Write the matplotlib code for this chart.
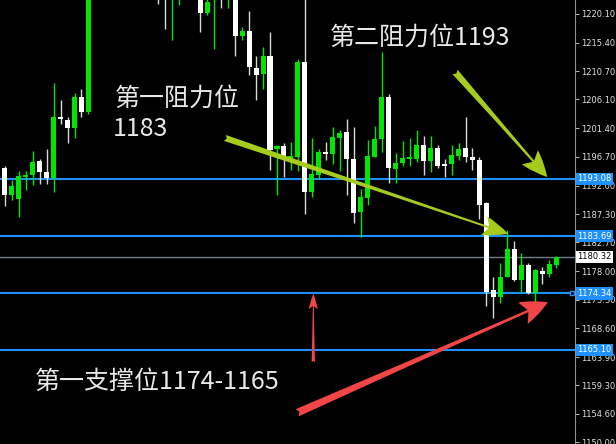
import numpy as np
import matplotlib
matplotlib.use('Agg')
import matplotlib.pyplot as plt

# candle data (white = down, green = up)
opens = [1194.9, 1190.5, 1189.8, 1193.4, 1193.7, 1196.0, 1194.2, 1193.2, 1203.2, 1202.7,
         1201.4, 1206.5, 1204.1, 1225.5, 1227.0, 1229.0, 1227.0, 1228.0, 1230.5, 1228.0,
         1226.0, 1227.0, 1225.0, 1223.5, 1222.6, 1223.0, 1224.5, 1223.2, 1224.0, 1220.3,
         1222.5, 1224.0, 1222.6, 1223.5, 1216.5, 1217.3, 1211.3, 1210.3, 1213.2, 1198.0,
         1198.5, 1196.4, 1196.7, 1212.2, 1191.0, 1193.7, 1197.5, 1197.2, 1199.8, 1200.8,
         1196.4, 1187.7, 1190.0, 1196.7, 1199.6, 1206.5, 1194.7, 1195.7, 1196.4, 1196.4,
         1198.7, 1196.0, 1198.2, 1195.5, 1195.5, 1196.8, 1198.2, 1196.7, 1196.2, 1189.2,
         1174.9, 1173.8, 1177.0, 1181.6, 1176.5, 1179.0, 1174.4, 1178.0, 1177.5, 1179.0]
highs = [1195.2, 1192.9, 1194.4, 1194.4, 1197.7, 1196.4, 1198.0, 1208.8, 1206.0, 1203.2,
         1207.2, 1207.8, 1226.5, 1228.0, 1230.0, 1231.5, 1229.0, 1232.0, 1232.5, 1230.0,
         1228.0, 1229.0, 1226.0, 1224.5, 1226.0, 1225.5, 1227.0, 1225.0, 1225.0, 1223.0,
         1225.0, 1225.0, 1224.5, 1224.0, 1218.0, 1220.6, 1213.2, 1214.7, 1217.2, 1198.6,
         1199.0, 1199.1, 1212.7, 1223.0, 1199.8, 1198.0, 1199.1, 1201.6, 1201.1, 1202.9,
         1201.6, 1191.4, 1199.5, 1201.8, 1213.9, 1207.0, 1197.3, 1199.3, 1199.8, 1201.1,
         1200.1, 1200.1, 1198.7, 1196.4, 1198.7, 1199.0, 1203.2, 1198.2, 1196.7, 1189.3,
         1177.0, 1179.3, 1184.7, 1182.9, 1181.0, 1179.3, 1178.3, 1178.7, 1179.8, 1180.5]
lows = [1188.7, 1189.6, 1186.9, 1191.3, 1192.1, 1192.3, 1192.3, 1191.0, 1202.1, 1199.0,
        1199.8, 1203.2, 1203.8, 1223.5, 1225.0, 1226.0, 1224.5, 1226.5, 1227.0, 1225.0,
        1223.5, 1224.0, 1221.7, 1217.6, 1215.8, 1221.6, 1222.8, 1222.6, 1217.2, 1219.9,
        1214.3, 1221.1, 1221.0, 1213.3, 1215.8, 1210.1, 1206.0, 1207.8, 1194.6, 1190.5,
        1193.4, 1194.6, 1194.4, 1187.4, 1190.1, 1193.1, 1196.2, 1195.5, 1194.4, 1190.5,
        1185.9, 1183.6, 1188.8, 1196.6, 1197.5, 1192.4, 1192.4, 1195.2, 1195.2, 1195.9,
        1193.7, 1194.2, 1194.9, 1193.4, 1193.7, 1196.2, 1195.9, 1194.6, 1186.5, 1172.3,
        1170.3, 1172.8, 1177.0, 1176.4, 1174.4, 1174.3, 1172.8, 1175.9, 1177.0, 1178.5]
closes = [1190.5, 1191.9, 1193.6, 1193.7, 1195.9, 1194.2, 1193.2, 1203.2, 1202.9, 1201.4,
          1206.5, 1204.1, 1225.5, 1227.0, 1229.0, 1227.0, 1228.0, 1230.5, 1228.0, 1226.0,
          1227.0, 1225.0, 1223.5, 1222.6, 1225.0, 1224.5, 1223.2, 1224.0, 1220.3, 1222.0,
          1224.0, 1222.6, 1223.5, 1216.5, 1217.3, 1211.4, 1210.1, 1213.2, 1197.8, 1198.5,
          1196.4, 1196.8, 1212.2, 1191.0, 1193.9, 1197.5, 1197.2, 1200.0, 1200.6, 1196.4,
          1187.5, 1190.1, 1196.8, 1199.6, 1206.5, 1194.9, 1195.7, 1196.5, 1196.5, 1198.7,
          1196.0, 1198.2, 1195.2, 1195.2, 1197.0, 1198.0, 1196.7, 1196.2, 1188.8, 1174.6,
          1173.8, 1177.0, 1181.6, 1176.5, 1179.0, 1174.4, 1178.2, 1177.5, 1179.2, 1180.3]

levels = [1193.08, 1183.69, 1174.34, 1165.10]
bid = 1180.32
tick_vals = [1220.10, 1215.40, 1210.70, 1206.10, 1201.40, 1196.70, 1192.00, 1187.30,
             1182.70, 1178.00, 1173.30, 1168.60, 1163.90, 1159.30, 1154.60, 1150.00]

GREEN = '#00e600'
WHITE = '#ffffff'
ARROW_GREEN = '#a5cc1c'
ARROW_RED = '#f24646'
TXT = '#e8e8e8'
CJK = ['Noto Sans CJK SC', 'DejaVu Sans']

o = np.array(opens)
h = np.array(highs)
l = np.array(lows)
c = np.array(closes)
x = np.arange(len(o))
up = c >= o
cols = np.where(up, GREEN, WHITE)

fig = plt.figure(figsize=(6.16, 4.44), dpi=100, facecolor='black')
ax = fig.add_axes([0, 0, 575 / 616, 1])
ax.set_facecolor('black')

ax.vlines(x, l, h, colors=np.where(up, GREEN, '#d8d8d8'), linewidth=1.0, zorder=2)
ax.bar(x, np.maximum(np.abs(c - o), 0.3), bottom=np.minimum(o, c), width=0.72,
       color=cols, linewidth=0, zorder=3)

for lv in levels:
    ax.axhline(lv, color='#1e90ff', lw=1.5, zorder=1)
ax.axhline(bid, color='#708090', lw=1.0, zorder=1)
ax.plot([81.25], [levels[2]], marker='s', ms=3.5, mfc='black', mec='#1e90ff', mew=1,
        zorder=5, clip_on=False)

ax.set_xlim(-0.67, 81.68)
ax.set_ylim(1149.68, 1222.39)

ax.yaxis.tick_right()
ax.set_yticks(tick_vals)
ax.set_yticklabels([f'{v:.2f}' for v in tick_vals])
ax.tick_params(axis='y', colors='#e0e0e0', labelsize=6, length=3, width=0.8, pad=1.5)
ax.tick_params(axis='y', color='#b0b0b0')
ax.set_xticks([])
for s in ['top', 'left', 'bottom']:
    ax.spines[s].set_visible(False)
ax.spines['right'].set_color('#909090')

tr = ax.get_yaxis_transform()
for lv in levels:
    ax.text(1.004, lv, f'{lv:.2f}', transform=tr, va='center', ha='left', fontsize=6,
            color='white', zorder=10, clip_on=False,
            bbox=dict(boxstyle='square,pad=0.2', fc='#1e90ff', ec='none'))
ax.text(1.004, bid, f'{bid:.2f}', transform=tr, va='center', ha='left', fontsize=6,
        color='black', zorder=10, clip_on=False,
        bbox=dict(boxstyle='square,pad=0.2', fc='white', ec='none'))

# arrows
def arrow(start, tip, color, scale, hl, hw, tw):
    ax.annotate('', xy=tip, xytext=start, zorder=8,
                arrowprops=dict(arrowstyle=f'fancy,head_length={hl},head_width={hw},tail_width={tw}',
                                fc=color, ec='none', mutation_scale=scale,
                                shrinkA=0, shrinkB=0))

arrow((31.55, 1199.8), (72.1, 1184.1), ARROW_GREEN, 14, 1.3, 1.0, 0.32)
arrow((64.5, 1210.6), (77.7, 1193.4), ARROW_GREEN, 14, 1.35, 1.1, 0.35)
arrow((41.9, 1154.8), (77.8, 1172.9), ARROW_RED, 14, 1.4, 1.2, 0.4)
arrow((44.2, 1163.1), (44.2, 1174.3), ARROW_RED, 8, 1.4, 0.8, 0.3)

ax.text(46.6, 1216.2, '第二阻力位1193', fontsize=18, color=TXT, family=CJK,
        va='center', ha='left', zorder=9)
ax.text(15.8, 1206.3, '第一阻力位', fontsize=18, color=TXT, family=CJK,
        va='center', ha='left', zorder=9)
ax.text(15.5, 1201.3, '1183', fontsize=18, color=TXT, family=CJK,
        va='center', ha='left', zorder=9)
ax.text(4.3, 1159.8, '第一支撑位1174-1165', fontsize=18, color=TXT, family=CJK,
        va='center', ha='left', zorder=9)

fig.savefig('out.png', dpi=100, facecolor='black')
